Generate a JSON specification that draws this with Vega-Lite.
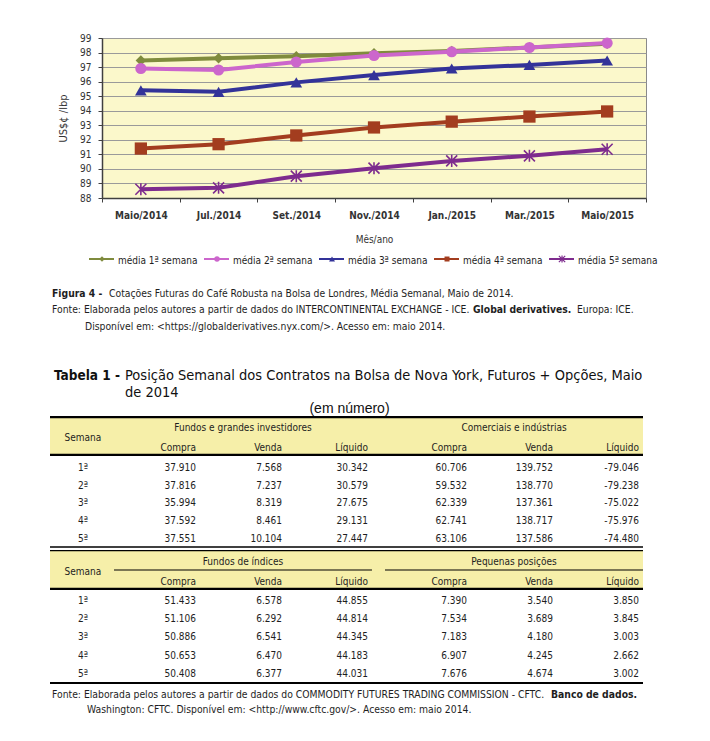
{
  "$schema": "https://vega.github.io/schema/vega-lite/v6.json",
  "background": "white",
  "padding": {"left": 48, "top": 32, "right": 10, "bottom": 10},
  "autosize": {"type": "pad"},
  "config": {
    "font": "DejaVu Sans Condensed",
    "view": {"stroke": null},
    "text": {"color": "#1e1e1e", "fontSize": 10, "dy": 2}
  },
  "resolve": {"scale": {"size": "independent", "shape": "independent"}},
  "datasets": {
    "cot": [
      {"mes": "Maio/2014", "serie": "média 1ª semana", "valor": 97.45},
      {"mes": "Jul./2014", "serie": "média 1ª semana", "valor": 97.6},
      {"mes": "Set./2014", "serie": "média 1ª semana", "valor": 97.75},
      {"mes": "Nov./2014", "serie": "média 1ª semana", "valor": 97.95},
      {"mes": "Jan./2015", "serie": "média 1ª semana", "valor": 98.1},
      {"mes": "Mar./2015", "serie": "média 1ª semana", "valor": 98.35},
      {"mes": "Maio/2015", "serie": "média 1ª semana", "valor": 98.6},
      {"mes": "Maio/2014", "serie": "média 2ª semana", "valor": 96.9},
      {"mes": "Jul./2014", "serie": "média 2ª semana", "valor": 96.8},
      {"mes": "Set./2014", "serie": "média 2ª semana", "valor": 97.35},
      {"mes": "Nov./2014", "serie": "média 2ª semana", "valor": 97.8},
      {"mes": "Jan./2015", "serie": "média 2ª semana", "valor": 98.05},
      {"mes": "Mar./2015", "serie": "média 2ª semana", "valor": 98.35},
      {"mes": "Maio/2015", "serie": "média 2ª semana", "valor": 98.65},
      {"mes": "Maio/2014", "serie": "média 3ª semana", "valor": 95.4},
      {"mes": "Jul./2014", "serie": "média 3ª semana", "valor": 95.3},
      {"mes": "Set./2014", "serie": "média 3ª semana", "valor": 95.95},
      {"mes": "Nov./2014", "serie": "média 3ª semana", "valor": 96.45},
      {"mes": "Jan./2015", "serie": "média 3ª semana", "valor": 96.9},
      {"mes": "Mar./2015", "serie": "média 3ª semana", "valor": 97.15},
      {"mes": "Maio/2015", "serie": "média 3ª semana", "valor": 97.45},
      {"mes": "Maio/2014", "serie": "média 4ª semana", "valor": 91.4},
      {"mes": "Jul./2014", "serie": "média 4ª semana", "valor": 91.7},
      {"mes": "Set./2014", "serie": "média 4ª semana", "valor": 92.3},
      {"mes": "Nov./2014", "serie": "média 4ª semana", "valor": 92.85},
      {"mes": "Jan./2015", "serie": "média 4ª semana", "valor": 93.25},
      {"mes": "Mar./2015", "serie": "média 4ª semana", "valor": 93.6},
      {"mes": "Maio/2015", "serie": "média 4ª semana", "valor": 93.95},
      {"mes": "Maio/2014", "serie": "média 5ª semana", "valor": 88.6},
      {"mes": "Jul./2014", "serie": "média 5ª semana", "valor": 88.7},
      {"mes": "Set./2014", "serie": "média 5ª semana", "valor": 89.5},
      {"mes": "Nov./2014", "serie": "média 5ª semana", "valor": 90.05},
      {"mes": "Jan./2015", "serie": "média 5ª semana", "valor": 90.55},
      {"mes": "Mar./2015", "serie": "média 5ª semana", "valor": 90.9},
      {"mes": "Maio/2015", "serie": "média 5ª semana", "valor": 91.35}
    ],
    "leg": [
      {"serie": "média 1ª semana"},
      {"serie": "média 2ª semana"},
      {"serie": "média 3ª semana"},
      {"serie": "média 4ª semana"},
      {"serie": "média 5ª semana"}
    ],
    "subs": [
      {"g": "g1", "c": "Compra"}, {"g": "g1", "c": "Venda"}, {"g": "g1", "c": "Líquido"},
      {"g": "g2", "c": "Compra"}, {"g": "g2", "c": "Venda"}, {"g": "g2", "c": "Líquido"}
    ],
    "sem": [{"s": "1ª"}, {"s": "2ª"}, {"s": "3ª"}, {"s": "4ª"}, {"s": "5ª"}],
    "t1": [
      {"s": "1ª", "g": "g1", "c": "Compra", "v": "37.910"},
      {"s": "1ª", "g": "g1", "c": "Venda", "v": "7.568"},
      {"s": "1ª", "g": "g1", "c": "Líquido", "v": "30.342"},
      {"s": "1ª", "g": "g2", "c": "Compra", "v": "60.706"},
      {"s": "1ª", "g": "g2", "c": "Venda", "v": "139.752"},
      {"s": "1ª", "g": "g2", "c": "Líquido", "v": "-79.046"},
      {"s": "2ª", "g": "g1", "c": "Compra", "v": "37.816"},
      {"s": "2ª", "g": "g1", "c": "Venda", "v": "7.237"},
      {"s": "2ª", "g": "g1", "c": "Líquido", "v": "30.579"},
      {"s": "2ª", "g": "g2", "c": "Compra", "v": "59.532"},
      {"s": "2ª", "g": "g2", "c": "Venda", "v": "138.770"},
      {"s": "2ª", "g": "g2", "c": "Líquido", "v": "-79.238"},
      {"s": "3ª", "g": "g1", "c": "Compra", "v": "35.994"},
      {"s": "3ª", "g": "g1", "c": "Venda", "v": "8.319"},
      {"s": "3ª", "g": "g1", "c": "Líquido", "v": "27.675"},
      {"s": "3ª", "g": "g2", "c": "Compra", "v": "62.339"},
      {"s": "3ª", "g": "g2", "c": "Venda", "v": "137.361"},
      {"s": "3ª", "g": "g2", "c": "Líquido", "v": "-75.022"},
      {"s": "4ª", "g": "g1", "c": "Compra", "v": "37.592"},
      {"s": "4ª", "g": "g1", "c": "Venda", "v": "8.461"},
      {"s": "4ª", "g": "g1", "c": "Líquido", "v": "29.131"},
      {"s": "4ª", "g": "g2", "c": "Compra", "v": "62.741"},
      {"s": "4ª", "g": "g2", "c": "Venda", "v": "138.717"},
      {"s": "4ª", "g": "g2", "c": "Líquido", "v": "-75.976"},
      {"s": "5ª", "g": "g1", "c": "Compra", "v": "37.551"},
      {"s": "5ª", "g": "g1", "c": "Venda", "v": "10.104"},
      {"s": "5ª", "g": "g1", "c": "Líquido", "v": "27.447"},
      {"s": "5ª", "g": "g2", "c": "Compra", "v": "63.106"},
      {"s": "5ª", "g": "g2", "c": "Venda", "v": "137.586"},
      {"s": "5ª", "g": "g2", "c": "Líquido", "v": "-74.480"}
    ],
    "t2": [
      {"s": "1ª", "g": "g1", "c": "Compra", "v": "51.433"},
      {"s": "1ª", "g": "g1", "c": "Venda", "v": "6.578"},
      {"s": "1ª", "g": "g1", "c": "Líquido", "v": "44.855"},
      {"s": "1ª", "g": "g2", "c": "Compra", "v": "7.390"},
      {"s": "1ª", "g": "g2", "c": "Venda", "v": "3.540"},
      {"s": "1ª", "g": "g2", "c": "Líquido", "v": "3.850"},
      {"s": "2ª", "g": "g1", "c": "Compra", "v": "51.106"},
      {"s": "2ª", "g": "g1", "c": "Venda", "v": "6.292"},
      {"s": "2ª", "g": "g1", "c": "Líquido", "v": "44.814"},
      {"s": "2ª", "g": "g2", "c": "Compra", "v": "7.534"},
      {"s": "2ª", "g": "g2", "c": "Venda", "v": "3.689"},
      {"s": "2ª", "g": "g2", "c": "Líquido", "v": "3.845"},
      {"s": "3ª", "g": "g1", "c": "Compra", "v": "50.886"},
      {"s": "3ª", "g": "g1", "c": "Venda", "v": "6.541"},
      {"s": "3ª", "g": "g1", "c": "Líquido", "v": "44.345"},
      {"s": "3ª", "g": "g2", "c": "Compra", "v": "7.183"},
      {"s": "3ª", "g": "g2", "c": "Venda", "v": "4.180"},
      {"s": "3ª", "g": "g2", "c": "Líquido", "v": "3.003"},
      {"s": "4ª", "g": "g1", "c": "Compra", "v": "50.653"},
      {"s": "4ª", "g": "g1", "c": "Venda", "v": "6.470"},
      {"s": "4ª", "g": "g1", "c": "Líquido", "v": "44.183"},
      {"s": "4ª", "g": "g2", "c": "Compra", "v": "6.907"},
      {"s": "4ª", "g": "g2", "c": "Venda", "v": "4.245"},
      {"s": "4ª", "g": "g2", "c": "Líquido", "v": "2.662"},
      {"s": "5ª", "g": "g1", "c": "Compra", "v": "50.408"},
      {"s": "5ª", "g": "g1", "c": "Venda", "v": "6.377"},
      {"s": "5ª", "g": "g1", "c": "Líquido", "v": "44.031"},
      {"s": "5ª", "g": "g2", "c": "Compra", "v": "7.676"},
      {"s": "5ª", "g": "g2", "c": "Venda", "v": "4.674"},
      {"s": "5ª", "g": "g2", "c": "Líquido", "v": "3.002"}
    ]
  },
  "spacing": 0,
  "vconcat": [
    {
      "spacing": 0,
      "bounds": "flush",
      "hconcat": [
        {
          "width": 52, "height": 160,
          "data": {"values": [{"t": ""}]},
          "mark": {"type": "text"},
          "encoding": {"text": {"field": "t"}}
        },
        {
          "width": 544, "height": 160,
          "view": {"fill": "#FBF8CB", "stroke": "#8a8a8a", "strokeWidth": 1},
          "data": {"name": "cot"},
          "encoding": {
            "x": {
              "field": "mes", "type": "ordinal", "bandPosition": 0.5,
              "sort": ["Maio/2014", "Jul./2014", "Set./2014", "Nov./2014", "Jan./2015", "Mar./2015", "Maio/2015"],
              "scale": {"type": "band", "paddingInner": 0, "paddingOuter": 0},
              "axis": {
                "title": "Mês/ano", "tickBand": "extent", "labelAngle": 0, "grid": false,
                "domainColor": "#404040", "domainWidth": 1.5, "tickColor": "#404040", "tickSize": 4,
                "labelFontSize": 10, "labelFontWeight": "bold", "labelColor": "#333333", "labelPadding": 8,
                "titleFontSize": 10, "titleFontWeight": "normal", "titleColor": "#333333", "titlePadding": 14
              }
            },
            "y": {
              "field": "valor", "type": "quantitative",
              "scale": {"domain": [88, 99], "nice": false, "zero": false},
              "axis": {
                "title": "US$¢ /lbp", "values": [88, 89, 90, 91, 92, 93, 94, 95, 96, 97, 98, 99],
                "grid": true, "gridColor": "#9a9a9a", "gridWidth": 1,
                "domainColor": "#404040", "domainWidth": 1.5, "tickColor": "#404040", "tickSize": 4,
                "labelFontSize": 10, "labelColor": "#333333", "labelPadding": 7,
                "titleFontSize": 11, "titleFontWeight": "normal", "titleColor": "#333333", "titlePadding": 11
              }
            },
            "color": {
              "field": "serie", "type": "nominal", "legend": null,
              "scale": {
                "domain": ["média 1ª semana", "média 2ª semana", "média 3ª semana", "média 4ª semana", "média 5ª semana"],
                "range": ["#7F8B3D", "#CC66CC", "#333399", "#A33D1F", "#7E2C8E"]
              }
            }
          },
          "layer": [
            {"mark": {"type": "line", "strokeWidth": 4}},
            {
              "transform": [{"filter": "datum.serie !== 'média 5ª semana'"}],
              "mark": {"type": "point", "filled": true, "opacity": 1},
              "encoding": {
                "shape": {"field": "serie", "type": "nominal", "legend": null,
                  "scale": {"domain": ["média 1ª semana", "média 2ª semana", "média 3ª semana", "média 4ª semana"],
                            "range": ["diamond", "circle", "triangle-up", "square"]}},
                "size": {"field": "serie", "type": "nominal", "legend": null,
                  "scale": {"domain": ["média 1ª semana", "média 2ª semana", "média 3ª semana", "média 4ª semana"],
                            "range": [110, 150, 150, 85]}}
              }
            },
            {
              "transform": [{"filter": "datum.serie === 'média 5ª semana'"}],
              "mark": {"type": "point", "filled": false, "opacity": 1, "strokeWidth": 1.6, "size": 121,
                       "shape": "M-1,-1L1,1M-1,1L1,-1M0,-1.1L0,1.1"}
            }
          ]
        }
      ]
    },
    {
      "width": 593, "height": 170,
      "resolve": {"scale": {"size": "independent"}},
      "encoding": {
        "y": {"datum": "0", "type": "ordinal", "axis": null,
              "scale": {"type": "point", "domain": ["0", "1", "2", "3", "4", "5", "6", "7", "8", "9"], "padding": 0.67, "align": 0.636}}
      },
      "layer": [
        {
          "data": {"name": "leg"},
          "mark": {"type": "rule", "strokeWidth": 2, "xOffset": -13, "x2Offset": 12},
          "encoding": {
            "x": {"field": "serie", "type": "nominal", "axis": null,
                  "scale": {"type": "point", "padding": 0.578, "align": 0.391}},
            "x2": {"field": "serie"},
            "color": {"field": "serie", "type": "nominal", "legend": null,
              "scale": {"domain": ["média 1ª semana", "média 2ª semana", "média 3ª semana", "média 4ª semana", "média 5ª semana"],
                        "range": ["#7F8B3D", "#CC66CC", "#333399", "#A33D1F", "#7E2C8E"]}}
          }
        },
        {
          "data": {"name": "leg"},
          "transform": [{"filter": "datum.serie === 'média 1ª semana'"}],
          "mark": {"type": "point", "filled": true, "opacity": 1, "shape": "diamond", "size": 30},
          "encoding": {"x": {"field": "serie", "type": "nominal"}, "color": {"field": "serie", "type": "nominal", "legend": null}}
        },
        {
          "data": {"name": "leg"},
          "transform": [{"filter": "datum.serie === 'média 2ª semana'"}],
          "mark": {"type": "point", "filled": true, "opacity": 1, "shape": "circle", "size": 30},
          "encoding": {"x": {"field": "serie", "type": "nominal"}, "color": {"field": "serie", "type": "nominal", "legend": null}}
        },
        {
          "data": {"name": "leg"},
          "transform": [{"filter": "datum.serie === 'média 3ª semana'"}],
          "mark": {"type": "point", "filled": true, "opacity": 1, "shape": "triangle-up", "size": 36},
          "encoding": {"x": {"field": "serie", "type": "nominal"}, "color": {"field": "serie", "type": "nominal", "legend": null}}
        },
        {
          "data": {"name": "leg"},
          "transform": [{"filter": "datum.serie === 'média 4ª semana'"}],
          "mark": {"type": "point", "filled": true, "opacity": 1, "shape": "square", "size": 25},
          "encoding": {"x": {"field": "serie", "type": "nominal"}, "color": {"field": "serie", "type": "nominal", "legend": null}}
        },
        {
          "data": {"name": "leg"},
          "transform": [{"filter": "datum.serie === 'média 5ª semana'"}],
          "mark": {"type": "point", "filled": false, "opacity": 1, "strokeWidth": 1.2, "size": 40,
                   "shape": "M-1,-1L1,1M-1,1L1,-1M0,-1.1L0,1.1"},
          "encoding": {"x": {"field": "serie", "type": "nominal"}, "color": {"field": "serie", "type": "nominal", "legend": null}}
        },
        {
          "data": {"name": "leg"},
          "mark": {"type": "text", "align": "left", "dx": 16, "fontSize": 10},
          "encoding": {"x": {"field": "serie", "type": "nominal"}, "text": {"field": "serie"}}
        },
        {
          "data": {"values": [{"t": "Figura 4 -"}]},
          "mark": {"type": "text", "align": "left", "x": 0, "dx": 2, "fontSize": 10.3, "fontWeight": "bold"},
          "encoding": {"y": {"datum": "2", "type": "ordinal"}, "text": {"field": "t"}}
        },
        {
          "data": {"values": [{"t": "Cotações Futuras do Café Robusta na Bolsa de Londres, Média Semanal, Maio de 2014."}]},
          "mark": {"type": "text", "align": "left", "x": 0, "dx": 59, "fontSize": 10.3},
          "encoding": {"y": {"datum": "2", "type": "ordinal"}, "text": {"field": "t"}}
        },
        {
          "data": {"values": [{"t": "Fonte: Elaborada pelos autores a partir de dados do INTERCONTINENTAL EXCHANGE - ICE."}]},
          "mark": {"type": "text", "align": "left", "x": 0, "dx": 2, "fontSize": 10.3},
          "encoding": {"y": {"datum": "3", "type": "ordinal"}, "text": {"field": "t"}}
        },
        {
          "data": {"values": [{"t": "Global derivatives."}]},
          "mark": {"type": "text", "align": "left", "x": 0, "dx": 423, "fontSize": 10.3, "fontWeight": "bold"},
          "encoding": {"y": {"datum": "3", "type": "ordinal"}, "text": {"field": "t"}}
        },
        {
          "data": {"values": [{"t": "Europa: ICE."}]},
          "mark": {"type": "text", "align": "left", "x": 0, "dx": 527, "fontSize": 10.3},
          "encoding": {"y": {"datum": "3", "type": "ordinal"}, "text": {"field": "t"}}
        },
        {
          "data": {"values": [{"t": "Disponível em: <https://globalderivatives.nyx.com/>. Acesso em: maio 2014."}]},
          "mark": {"type": "text", "align": "left", "x": 0, "dx": 35, "fontSize": 10.3},
          "encoding": {"y": {"datum": "4", "type": "ordinal"}, "text": {"field": "t"}}
        },
        {
          "data": {"values": [{"t": "Tabela 1 -"}]},
          "mark": {"type": "text", "align": "left", "x": 0, "dx": 4, "fontSize": 13.5, "fontWeight": "bold", "color": "#111111"},
          "encoding": {"y": {"datum": "7", "type": "ordinal"}, "text": {"field": "t"}}
        },
        {
          "data": {"values": [{"t": "Posição Semanal dos Contratos na Bolsa de Nova York, Futuros + Opções, Maio"}]},
          "mark": {"type": "text", "align": "left", "x": 0, "dx": 75, "fontSize": 14.5, "color": "#111111"},
          "encoding": {"y": {"datum": "7", "type": "ordinal"}, "text": {"field": "t"}}
        },
        {
          "data": {"values": [{"t": "de 2014"}]},
          "mark": {"type": "text", "align": "left", "x": 0, "dx": 75, "fontSize": 14.5, "color": "#111111"},
          "encoding": {"y": {"datum": "8", "type": "ordinal"}, "text": {"field": "t"}}
        },
        {
          "data": {"values": [{"t": "(em número)"}]},
          "mark": {"type": "text", "dx": 3, "fontSize": 14, "font": "Liberation Sans", "color": "#111111"},
          "encoding": {"y": {"datum": "9", "type": "ordinal"}, "text": {"field": "t"}}
        }
      ]
    },
    {
      "width": 593, "height": 40,
      "view": {"fill": "#F6EFA9", "stroke": null},
      "layer": [
        {
          "data": {"values": [{"g": "g1", "t": "Fundos e grandes investidores"}, {"g": "g2", "t": "Comerciais e indústrias"}]},
          "mark": {"type": "text"},
          "encoding": {
            "x": {"field": "g", "type": "nominal", "axis": null,
                  "scale": {"type": "band", "domain": ["g1", "g2"], "paddingInner": 0.048, "paddingOuter": 0.118, "align": 1}},
            "y": {"datum": "g", "type": "nominal", "axis": null,
                  "scale": {"type": "band", "domain": ["g", "s"], "paddingInner": 0, "paddingOuter": 0}},
            "text": {"field": "t"}
          }
        },
        {
          "data": {"name": "subs"},
          "mark": {"type": "text", "align": "right", "dx": 39},
          "encoding": {
            "x": {"field": "g", "type": "nominal"},
            "xOffset": {"field": "c", "type": "nominal",
                        "scale": {"type": "band", "domain": ["Compra", "Venda", "Líquido"], "paddingInner": 0, "paddingOuter": 0}},
            "y": {"datum": "s", "type": "nominal"},
            "text": {"field": "c"}
          }
        },
        {
          "data": {"values": [{"t": "Semana"}]},
          "mark": {"type": "text", "dx": -160},
          "encoding": {"x": {"datum": "g1", "type": "nominal", "bandPosition": 0.5}, "text": {"field": "t"}}
        },
        {
          "data": {"values": [{"k": 1}]},
          "mark": {"type": "rule", "strokeWidth": 2.2, "color": "#000000"},
          "encoding": {"y": {"datum": "g", "type": "nominal", "bandPosition": 0.055}}
        },
        {
          "data": {"values": [{"k": 1}]},
          "mark": {"type": "rule", "strokeWidth": 2.2, "color": "#000000"},
          "encoding": {"y": {"datum": "s", "type": "nominal", "bandPosition": 0.945}}
        }
      ]
    },
    {
      "width": 593, "height": 94,
      "layer": [
        {
          "data": {"name": "t1"},
          "mark": {"type": "text", "align": "right", "dx": 39},
          "encoding": {
            "x": {"field": "g", "type": "nominal", "axis": null,
                  "scale": {"type": "band", "domain": ["g1", "g2"], "paddingInner": 0.048, "paddingOuter": 0.118, "align": 1}},
            "xOffset": {"field": "c", "type": "nominal",
                        "scale": {"type": "band", "domain": ["Compra", "Venda", "Líquido"], "paddingInner": 0, "paddingOuter": 0}},
            "y": {"field": "s", "type": "nominal", "axis": null,
                  "scale": {"type": "band", "domain": ["1ª", "2ª", "3ª", "4ª", "5ª"], "paddingInner": 0, "paddingOuter": 0.148, "align": 0.214}},
            "text": {"field": "v"}
          }
        },
        {
          "data": {"name": "sem"},
          "mark": {"type": "text", "dx": -160},
          "encoding": {
            "x": {"datum": "g1", "type": "nominal", "bandPosition": 0.5},
            "y": {"field": "s", "type": "nominal"},
            "text": {"field": "s"}
          }
        },
        {
          "data": {"values": [{"k": 1}]},
          "mark": {"type": "rule", "strokeWidth": 1.3, "color": "#000000"},
          "encoding": {"y": {"datum": "5ª", "type": "nominal", "bandPosition": 1.063}}
        }
      ]
    },
    {
      "width": 593, "height": 40,
      "view": {"fill": "#F6EFA9", "stroke": null},
      "layer": [
        {
          "data": {"values": [{"g": "g1", "t": "Fundos de índices"}, {"g": "g2", "t": "Pequenas posições"}]},
          "mark": {"type": "text"},
          "encoding": {
            "x": {"field": "g", "type": "nominal", "axis": null,
                  "scale": {"type": "band", "domain": ["g1", "g2"], "paddingInner": 0.048, "paddingOuter": 0.118, "align": 1}},
            "y": {"datum": "g", "type": "nominal", "axis": null,
                  "scale": {"type": "band", "domain": ["g", "s"], "paddingInner": 0, "paddingOuter": 0}},
            "text": {"field": "t"}
          }
        },
        {
          "data": {"name": "subs"},
          "mark": {"type": "text", "align": "right", "dx": 39},
          "encoding": {
            "x": {"field": "g", "type": "nominal"},
            "xOffset": {"field": "c", "type": "nominal",
                        "scale": {"type": "band", "domain": ["Compra", "Venda", "Líquido"], "paddingInner": 0, "paddingOuter": 0}},
            "y": {"datum": "s", "type": "nominal"},
            "text": {"field": "c"}
          }
        },
        {
          "data": {"values": [{"t": "Semana"}]},
          "mark": {"type": "text", "dx": -160},
          "encoding": {"x": {"datum": "g1", "type": "nominal", "bandPosition": 0.5}, "text": {"field": "t"}}
        },
        {
          "data": {"values": [{"g": "g1"}, {"g": "g2"}]},
          "mark": {"type": "tick", "orient": "horizontal", "size": 258, "thickness": 1.2, "color": "#000000", "opacity": 1},
          "encoding": {
            "x": {"field": "g", "type": "nominal"},
            "y": {"datum": "g", "type": "nominal", "bandPosition": 1}
          }
        },
        {
          "data": {"values": [{"k": 1}]},
          "mark": {"type": "rule", "strokeWidth": 1.3, "color": "#000000"},
          "encoding": {"y": {"datum": "g", "type": "nominal", "bandPosition": 0.033}}
        },
        {
          "data": {"values": [{"k": 1}]},
          "mark": {"type": "rule", "strokeWidth": 2.2, "color": "#000000"},
          "encoding": {"y": {"datum": "s", "type": "nominal", "bandPosition": 0.945}}
        }
      ]
    },
    {
      "width": 593, "height": 95,
      "layer": [
        {
          "data": {"name": "t2"},
          "mark": {"type": "text", "align": "right", "dx": 39},
          "encoding": {
            "x": {"field": "g", "type": "nominal", "axis": null,
                  "scale": {"type": "band", "domain": ["g1", "g2"], "paddingInner": 0.048, "paddingOuter": 0.118, "align": 1}},
            "xOffset": {"field": "c", "type": "nominal",
                        "scale": {"type": "band", "domain": ["Compra", "Venda", "Líquido"], "paddingInner": 0, "paddingOuter": 0}},
            "y": {"field": "s", "type": "nominal", "axis": null,
                  "scale": {"type": "band", "domain": ["1ª", "2ª", "3ª", "4ª", "5ª"], "paddingInner": 0, "paddingOuter": 0.11, "align": 0}},
            "text": {"field": "v"}
          }
        },
        {
          "data": {"name": "sem"},
          "mark": {"type": "text", "dx": -160},
          "encoding": {
            "x": {"datum": "g1", "type": "nominal", "bandPosition": 0.5},
            "y": {"field": "s", "type": "nominal"},
            "text": {"field": "s"}
          }
        },
        {
          "data": {"values": [{"k": 1}]},
          "mark": {"type": "rule", "strokeWidth": 2.2, "color": "#000000"},
          "encoding": {"y": {"datum": "5ª", "type": "nominal", "bandPosition": 1.11}}
        }
      ]
    },
    {
      "width": 593, "height": 32,
      "encoding": {
        "y": {"datum": "0", "type": "ordinal", "axis": null,
              "scale": {"type": "point", "domain": ["0", "1"], "padding": 0.567, "align": 0.47}}
      },
      "layer": [
        {
          "data": {"values": [{"t": "Fonte: Elaborada pelos autores a partir de dados do COMMODITY FUTURES TRADING COMMISSION - CFTC."}]},
          "mark": {"type": "text", "align": "left", "x": 0, "dx": 2, "fontSize": 10.3},
          "encoding": {"y": {"datum": "0", "type": "ordinal"}, "text": {"field": "t"}}
        },
        {
          "data": {"values": [{"t": "Banco de dados."}]},
          "mark": {"type": "text", "align": "left", "x": 0, "dx": 501, "fontSize": 10.3, "fontWeight": "bold"},
          "encoding": {"y": {"datum": "0", "type": "ordinal"}, "text": {"field": "t"}}
        },
        {
          "data": {"values": [{"t": "Washington: CFTC. Disponível em: <http://www.cftc.gov/>. Acesso em: maio 2014."}]},
          "mark": {"type": "text", "align": "left", "x": 0, "dx": 37, "fontSize": 10.3},
          "encoding": {"y": {"datum": "1", "type": "ordinal"}, "text": {"field": "t"}}
        }
      ]
    }
  ]
}
